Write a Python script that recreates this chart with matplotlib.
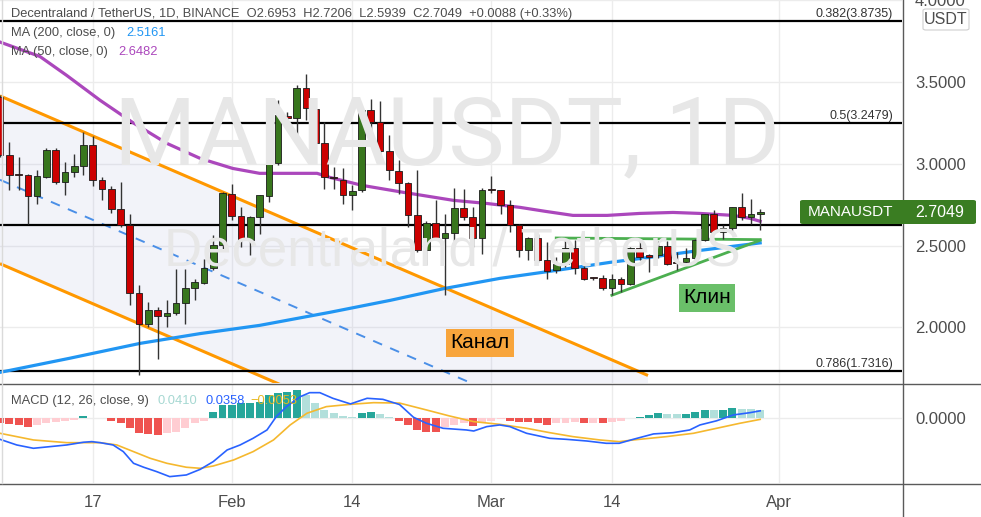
import matplotlib
matplotlib.use("Agg")
import matplotlib.pyplot as plt
from matplotlib.patches import FancyBboxPatch, Polygon
from matplotlib.lines import Line2D
import numpy as np

plt.rcParams["font.family"] = ["Liberation Sans", "DejaVu Sans"]

# ─── Data ─────────────────────────────────────────────────────────────────────
# candle index 0 = Jan 7, index 82 = Mar 30
opens = [3.407, 3.055, 2.935, 2.932, 2.802, 2.918, 3.081, 2.888, 2.949, 2.983,
         3.112, 2.898, 2.847, 2.725, 2.623, 2.211, 2.022, 2.108, 2.069, 2.089,
         2.150, 2.240, 2.271, 2.364, 2.501, 2.816, 2.678, 2.531, 2.674, 2.800,
         3.006, 3.291, 3.281, 3.464, 3.336, 3.126, 2.918, 2.902, 2.810, 2.837,
         3.330, 3.254, 3.075, 2.955, 2.884, 2.688, 2.474, 2.639, 2.548, 2.576,
         2.731, 2.674, 2.548, 2.843, 2.837, 2.745, 2.627, 2.474, 2.548, 2.409,
         2.348, 2.385, 2.486, 2.364, 2.305, 2.303, 2.242, 2.297, 2.262, 2.486,
         2.444, 2.440, 2.495, 2.395, 2.399, 2.425, 2.531, 2.690, 2.582, 2.609,
         2.735, 2.674, 2.6953]
highs = [3.420, 3.132, 3.040, 2.935, 2.959, 3.097, 3.097, 3.010, 3.057, 3.193,
         3.167, 2.918, 2.861, 2.888, 2.694, 2.256, 2.154, 2.124, 2.165, 2.358,
         2.358, 2.297, 2.419, 2.562, 2.827, 2.877, 2.735, 2.680, 2.810, 3.097,
         3.391, 3.315, 3.478, 3.545, 3.340, 3.254, 2.979, 2.975, 2.870, 3.340,
         3.397, 3.381, 3.173, 3.024, 2.890, 2.959, 2.650, 2.776, 2.694, 2.853,
         2.847, 2.735, 2.853, 2.922, 2.840, 2.776, 2.630, 2.550, 2.572, 2.520,
         2.430, 2.540, 2.531, 2.389, 2.310, 2.317, 2.328, 2.307, 2.490, 2.531,
         2.450, 2.530, 2.530, 2.460, 2.486, 2.541, 2.694, 2.714, 2.623, 2.735,
         2.820, 2.786, 2.7206]
lows = [3.040, 2.837, 2.837, 2.633, 2.755, 2.910, 2.874, 2.810, 2.918, 2.928,
        2.861, 2.776, 2.698, 2.613, 2.134, 1.706, 2.002, 1.808, 2.002, 2.073,
        2.022, 2.165, 2.267, 2.350, 2.480, 2.658, 2.491, 2.440, 2.572, 2.765,
        2.990, 3.213, 3.112, 3.264, 3.081, 2.847, 2.847, 2.751, 2.715, 2.830,
        3.163, 3.010, 2.898, 2.816, 2.613, 2.460, 2.378, 2.531, 2.195, 2.515,
        2.658, 2.491, 2.450, 2.820, 2.694, 2.582, 2.430, 2.409, 2.399, 2.297,
        2.330, 2.370, 2.328, 2.287, 2.290, 2.226, 2.195, 2.216, 2.256, 2.409,
        2.338, 2.425, 2.378, 2.348, 2.389, 2.399, 2.527, 2.576, 2.541, 2.582,
        2.657, 2.633, 2.5939]
closes = [3.051, 2.928, 2.930, 2.802, 2.922, 3.081, 2.888, 2.949, 2.983, 3.112,
          2.898, 2.847, 2.725, 2.623, 2.211, 2.022, 2.108, 2.069, 2.089, 2.150,
          2.240, 2.277, 2.364, 2.501, 2.820, 2.678, 2.535, 2.674, 2.806, 3.006,
          3.295, 3.279, 3.464, 3.342, 3.126, 2.918, 2.910, 2.810, 2.835, 3.330,
          3.254, 3.075, 2.959, 2.884, 2.688, 2.474, 2.639, 2.548, 2.576, 2.731,
          2.674, 2.548, 2.841, 2.838, 2.745, 2.627, 2.470, 2.548, 2.409, 2.344,
          2.385, 2.486, 2.364, 2.297, 2.300, 2.242, 2.297, 2.262, 2.486, 2.429,
          2.429, 2.495, 2.389, 2.393, 2.425, 2.531, 2.690, 2.582, 2.609, 2.735,
          2.674, 2.690, 2.7049]

ma50_idx = [0, 4.3, 7.2, 10.8, 14.3, 18.0, 21.6, 25.1, 28.0, 31.3, 34.2, 35.6, 39.1,
            43.5, 48.9, 52.5, 56.1, 58.8, 61.8, 65.5, 69.0, 72.6, 75.5, 79.1, 80.9, 82]
ma50_val = [3.743, 3.655, 3.539, 3.387, 3.252, 3.124, 3.032, 2.971, 2.941, 2.941, 2.941,
            2.916, 2.867, 2.825, 2.776, 2.757, 2.733, 2.709, 2.684, 2.684, 2.696, 2.702,
            2.696, 2.684, 2.666, 2.648]
ma200_idx = [0, 7.5, 15.1, 21.6, 28, 35.6, 42.1, 48, 53.9, 60, 65.8, 70.1, 75.5, 82]
ma200_val = [1.725, 1.811, 1.902, 1.962, 2.012, 2.092, 2.165, 2.238, 2.299, 2.348,
             2.397, 2.428, 2.470, 2.516]

fib_levels = [3.8735, 3.2479, 2.6223, 1.7316]
fib_labels = ["0.382(3.8735)", "0.5(3.2479)", "", "0.786(1.7316)"]

chan_idx = [0, 69.9]
chan_upper = [3.414, 1.706]
chan_mid = [2.9015, 1.1935]
chan_lower = [2.389, 0.681]

wedge_top_idx = [60, 82]
wedge_top_val = [2.546, 2.536]
wedge_bot_idx = [66, 82]
wedge_bot_val = [2.196, 2.532]

macd_idx = [0, 1.8, 3.6, 5.4, 7.2, 9, 9.9, 10.8, 12.2, 13.3, 14.4, 15.5, 16.9, 18.3,
            20.1, 21.6, 23, 24.5, 25.9, 27.3, 28.8, 29.8, 30.9, 32.4, 33.4, 34.5,
            35.9, 37.8, 39.6, 41.3, 43.1, 44.6, 46, 47.8, 50.3, 51.1, 52.5, 53.9,
            55, 56.8, 59.3, 61.1, 63.3, 65.4, 66.8, 68.3, 70.5, 72.6, 74.4, 75.5,
            77.3, 79.1, 80.9, 82]
macd_val = [-0.101, -0.128, -0.144, -0.136, -0.128, -0.115, -0.112, -0.117, -0.128,
            -0.160, -0.216, -0.235, -0.256, -0.280, -0.272, -0.245, -0.208, -0.152,
            -0.128, -0.096, -0.056, 0.008, 0.056, 0.104, 0.123, 0.123, 0.096, 0.069,
            0.096, 0.091, 0.066, 0.005, -0.024, -0.048, -0.056, -0.061, -0.040,
            -0.032, -0.040, -0.072, -0.096, -0.101, -0.109, -0.120, -0.120, -0.101,
            -0.075, -0.069, -0.056, -0.032, -0.012, 0.016, 0.027, 0.0358]
sig_idx = [0, 3.6, 7.2, 10.8, 12.6, 14.4, 16.2, 18, 20.1, 21.6, 23, 25.2, 27.3, 29.5,
           31.3, 33.1, 35.2, 37.8, 40.3, 43.1, 46, 48.5, 51.1, 53.9, 56.8, 59.3,
           61.8, 64.7, 66.8, 68.3, 71.9, 74.8, 77.3, 79.8, 82]
sig_val = [-0.072, -0.104, -0.117, -0.117, -0.128, -0.160, -0.192, -0.216, -0.235,
           -0.240, -0.229, -0.200, -0.160, -0.104, -0.032, 0.024, 0.056, 0.067, 0.075,
           0.073, 0.040, 0.011, -0.016, -0.029, -0.048, -0.069, -0.088, -0.104,
           -0.112, -0.104, -0.088, -0.072, -0.048, -0.024, -0.0053]
hist = [-0.024, -0.029, -0.032, -0.040, -0.032, -0.021, -0.016, -0.013, -0.008, 0.013,
        0.003, 0.0015, -0.011, -0.021, -0.045, -0.072, -0.075, -0.080, -0.069, -0.064,
        -0.048, -0.024, -0.011, 0.029, 0.064, 0.066, 0.072, 0.075, 0.080, 0.112,
        0.120, 0.128, 0.136, 0.112, 0.072, 0.040, 0.024, 0.011, 0.005, 0.027,
        0.030, 0.019, 0.008, -0.011, -0.032, -0.056, -0.064, -0.065, -0.040, -0.032,
        -0.024, -0.037, -0.021, -0.011, -0.005, -0.011, -0.016, -0.019, -0.024, -0.032,
        -0.024, -0.021, -0.019, -0.024, -0.023, -0.025, -0.016, -0.011, 0.003, 0.008,
        0.016, 0.027, 0.021, 0.019, 0.0205, 0.032, 0.040, 0.039, 0.0415, 0.051,
        0.045, 0.043, 0.041]

date_ticks = [10, 25, 38, 53, 66, 84]
date_labels = ["17", "Feb", "14", "Mar", "14", "Apr"]
price_ticks = [2.0, 2.5, 3.0, 3.5, 4.0]

# ─── Layout helpers (pixel -> figure fraction) ───────────────────────────────
W, H = 981, 517
def fx(px):
    return px / W
def fy(py):
    return 1 - py / H

TXT = "#4d4d4d"
GRID = "#ececec"
BULL, BEAR = "#38761d", "#cc0000"

fig = plt.figure(figsize=(W / 100, H / 100), dpi=100)
fig.patch.set_facecolor("white")

ax = fig.add_axes([0, fy(383), fx(902), 383 / H])
mx = fig.add_axes([0, fy(483), fx(902), (483 - 384) / H])

for a in (ax, mx):
    for s in a.spines.values():
        s.set_visible(False)
    a.set_xlim(-0.003, 97.3)
    a.set_xticks(date_ticks)
    a.grid(axis="x", color=GRID, lw=1)
    a.yaxis.tick_right()
    a.tick_params(length=0, labelsize=12, labelcolor=TXT, pad=9.4)
    a.set_axisbelow(True)

# ─── Price pane ──────────────────────────────────────────────────────────────
ax.set_ylim(1.660, 4.0)
ax.set_yticks(price_ticks)
ax.set_yticklabels([f"{v:.4f}" for v in price_ticks])
ax.grid(axis="y", color=GRID, lw=1)
ax.set_xticklabels([])
for lab in ax.get_yticklabels():
    lab.set_horizontalalignment("left")

# watermark
fig.text(fx(447), fy(138), "MANAUSDT, 1D", family="Roboto", fontsize=68,
         color="#e7e7e7", ha="center", va="center", zorder=0)
fig.text(fx(452), fy(252), "Decentraland / TetherUS", fontsize=38,
         color="#e7e7e7", ha="center", va="center", zorder=0)
ax.patch.set_alpha(0)
mx.patch.set_alpha(0)

# parallel channel
ax.add_patch(Polygon([(chan_idx[0], chan_upper[0]), (chan_idx[1], chan_upper[1]),
                      (chan_idx[1], chan_lower[1]), (chan_idx[0], chan_lower[0])],
                     closed=True, facecolor="#a5acd8", alpha=0.14, edgecolor="none", zorder=1))
ax.plot(chan_idx, chan_upper, color="#ff9800", lw=2.2, zorder=3, solid_capstyle="butt")
ax.plot(chan_idx, chan_lower, color="#ff9800", lw=2.2, zorder=3, solid_capstyle="butt")
ax.plot(chan_idx, chan_mid, color="#4a8fe7", lw=1.4, ls=(0, (5, 4.5)), zorder=3)

# fib levels
for lev, lab in zip(fib_levels, fib_labels):
    ax.axhline(lev, color="black", lw=1.6, zorder=3.5)
    if lab:
        ax.annotate(lab, xy=(893 / 902, lev), xycoords=("axes fraction", "data"),
                    xytext=(0, 5), textcoords="offset points", ha="right",
                    va="center", fontsize=9, color="#333333")

# moving averages
ax.plot(ma200_idx, ma200_val, color="#2196f3", lw=2.3, zorder=4)
ax.plot(ma50_idx, ma50_val, color="#ab47bc", lw=2.3, zorder=4)

# wedge
ax.plot(wedge_top_idx, wedge_top_val, color="#4caf50", lw=2, zorder=4)
ax.plot(wedge_bot_idx, wedge_bot_val, color="#4caf50", lw=2, zorder=4)

# candles
o, h, l, c = map(np.array, (opens, highs, lows, closes))
idx = np.arange(len(o))
up = c >= o
ax.vlines(idx, l, h, color="#333333", lw=1, zorder=5)
ax.bar(idx, np.maximum(np.abs(c - o), 0.006), 0.72, bottom=np.minimum(o, c),
       color=np.where(up, BULL, BEAR), edgecolor="#1b1b1b", lw=0.6, zorder=6)

# drawing labels
ax.text(51.78, 1.905, "Канал", fontsize=15, color="black", ha="center", va="center",
        zorder=7, bbox=dict(boxstyle="square,pad=0.2", fc="#f8a53c", ec="none"))
ax.text(76.26, 2.180, "Клин", fontsize=15, color="black", ha="center", va="center",
        zorder=7, bbox=dict(boxstyle="square,pad=0.2", fc="#6abf69", ec="none"))

# ─── MACD pane ───────────────────────────────────────────────────────────────
mx.set_ylim(-0.3106, 0.1646)
mx.set_yticks([0])
mx.set_yticklabels(["0.0000"])
for lab in mx.get_yticklabels():
    lab.set_horizontalalignment("left")
mx.grid(axis="y", color=GRID, lw=1)
mx.set_xticklabels(date_labels)
mx.tick_params(axis="x", pad=8.5)

cols = []
prev = None
for v in hist:
    if v >= 0:
        cols.append("#26a69a" if prev is None or v > prev else "#b2dfdb")
    else:
        cols.append("#ffcdd2" if prev is not None and v > prev else "#ef5350")
    prev = v
mx.bar(np.arange(len(hist)), hist, 0.86, color=cols, zorder=2)
mx.plot(sig_idx, sig_val, color="#f5b82e", lw=1.2, zorder=3)
mx.plot(macd_idx, macd_val, color="#2962ff", lw=1.2, zorder=4)

# ─── Legends ─────────────────────────────────────────────────────────────────
fig.text(fx(11), fy(14), "Decentraland / TetherUS, 1D, BINANCE  O2.6953  H2.7206  "
         "L2.5939  C2.7049  +0.0088 (+0.33%)", fontsize=9.3, color=TXT, va="center")
fig.text(fx(11), fy(33), "MA (200, close, 0)", fontsize=9.3, color=TXT, va="center")
fig.text(fx(126), fy(33), "2.5161", fontsize=9.3, color="#2196f3", va="center")
fig.text(fx(11), fy(52), "MA (50, close, 0)", fontsize=9.3, color=TXT, va="center")
fig.text(fx(118), fy(52), "2.6482", fontsize=9.3, color="#ab47bc", va="center")

fig.text(fx(11), fy(401), "MACD (12, 26, close, 9)", fontsize=9.3, color=TXT, va="center")
fig.text(fx(157), fy(401), "0.0410", fontsize=9.3, color="#a6d8d2", va="center")
fig.text(fx(205), fy(401), "0.0358", fontsize=9.3, color="#2962ff", va="center")
fig.text(fx(250), fy(401), "−0.0053", fontsize=9.3, color="#e8b923", va="center")

# ─── Scale decorations ───────────────────────────────────────────────────────
fig.add_artist(FancyBboxPatch((fx(923), fy(30)), fx(46), 21 / H,
                              boxstyle="round,pad=0,rounding_size=0.003",
                              transform=fig.transFigure, fc="white", ec="#cfcfcf", lw=0.8))
fig.text(fx(946), fy(20), "USDT", fontsize=11.5, color=TXT, ha="center", va="center")

fig.add_artist(FancyBboxPatch((fx(800), fy(224)), fx(176), 24 / H,
                              boxstyle="round,pad=0,rounding_size=0.003",
                              transform=fig.transFigure, fc="#3a7d22", ec="none", zorder=10))
fig.text(fx(808), fy(212.5), "MANAUSDT", fontsize=11, color="white", va="center", zorder=11)
fig.text(fx(915), fy(212.5), "2.7049", fontsize=11.5, color="white", va="center", zorder=11)

# pane separators
sep = "#5a5a5a"
fig.add_artist(Line2D([0, 1], [fy(383.5)] * 2, transform=fig.transFigure, color=sep, lw=1))
fig.add_artist(Line2D([0, 1], [fy(483.5)] * 2, transform=fig.transFigure, color=sep, lw=1))
fig.add_artist(Line2D([fx(902.5)] * 2, [0, 1], transform=fig.transFigure, color=sep, lw=1))
fig.add_artist(Line2D([fx(2)] * 2, [fy(483), 1], transform=fig.transFigure, color="#dadada", lw=1))

fig.savefig("out.png", dpi=100)
